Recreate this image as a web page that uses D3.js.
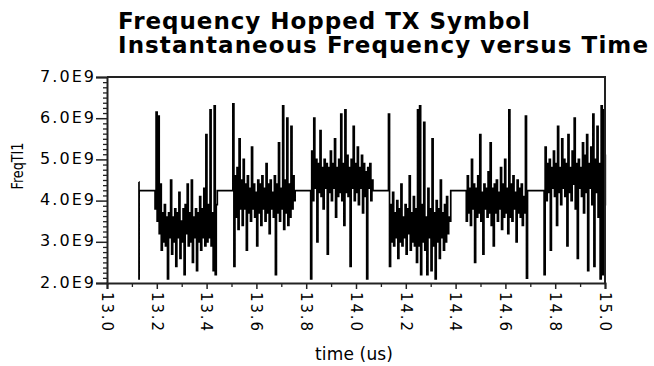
<!DOCTYPE html>
<html>
<head>
<meta charset="utf-8">
<script src="https://cdn.jsdelivr.net/npm/d3@7"></script>
<style>
  html, body { margin: 0; padding: 0; background: #fff; }
  svg { display: block; }
</style>
</head>
<body>
<svg id="chart" width="654" height="366"></svg>
<script>
// ---------------- data ----------------
const titleLines = ["Frequency Hopped TX Symbol", "Instantaneous Frequency versus Time"];
const xLabel = "time (us)";
const yLabel = "FreqTI1";

const xTickValues = [13.0, 13.2, 13.4, 13.6, 13.8, 14.0, 14.2, 14.4, 14.6, 14.8, 15.0];
const xTickLabels = ["13.0", "13.2", "13.4", "13.6", "13.8", "14.0", "14.2", "14.4", "14.6", "14.8", "15.0"];
const xMinorTicks = [13.1, 13.3, 13.5, 13.7, 13.9, 14.1, 14.3, 14.5, 14.7, 14.9];
const yTickValues = [2, 3, 4, 5, 6, 7];           // in units of 1E9
const yTickLabels = ["2.0E9", "3.0E9", "4.0E9", "5.0E9", "6.0E9", "7.0E9"];

// lead-in burst before the first hop (time us, freq GHz)
const leadTimes  = [13.128, 13.1285, 13.129];
const leadValues = [4.45, 2.1, 4.24];

// hop start times (us), hop duration and the guard level between hops
const hopStarts = [13.193, 13.5055, 13.818, 14.1305, 14.443, 14.7555];
const hopDuration = 0.25;
const guardLevel = 4.24;

// instantaneous frequency samples (GHz) in each hop
const hopA = [3.8, 6.15, 3.5, 6.05, 3.2, 4.4, 2.8, 3.7, 3.0, 3.9, 2.9, 3.6, 2.1, 3.7, 3.1, 4.5, 2.7, 3.6, 3.0, 3.8,
              2.4, 3.7, 3.1, 4.2, 2.6, 3.5, 3.0, 3.8, 2.2, 3.9, 3.2, 4.4, 2.9, 3.7, 3.0, 4.5, 2.5, 3.6, 3.1, 3.8,
              2.3, 3.7, 3.0, 4.1, 2.8, 3.8, 3.1, 4.3, 2.9, 5.6, 3.0, 3.9, 3.1, 6.2, 2.9, 3.7, 2.3, 6.3, 2.2, 3.9];
const hopB = [6.35, 2.4, 4.6, 3.6, 4.8, 3.3, 5.5, 3.8, 4.5, 3.4, 5.0, 3.8, 4.4, 2.8, 4.6, 3.7, 4.3, 3.5, 5.3, 3.8,
              4.4, 3.6, 4.2, 2.9, 4.5, 3.7, 4.4, 3.4, 4.6, 3.8, 4.3, 3.5, 4.9, 3.7, 4.4, 3.2, 4.5, 3.8, 4.2, 3.6,
              4.6, 2.2, 4.4, 3.7, 5.4, 3.5, 4.3, 3.8, 6.3, 3.3, 4.5, 3.7, 6.0, 3.4, 4.4, 3.6, 5.8, 3.8, 4.6, 4.0];
const hopC = [2.1, 5.2, 4.0, 6.0, 4.3, 5.0, 3.0, 4.9, 4.2, 5.7, 4.1, 4.8, 3.8, 5.0, 4.3, 4.9, 2.7, 4.8, 4.2, 5.2,
              4.0, 4.9, 4.3, 5.5, 3.6, 4.8, 4.1, 5.0, 4.2, 6.1, 4.0, 4.9, 3.4, 6.2, 4.2, 5.1, 4.1, 4.8, 2.4, 5.0,
              4.3, 5.8, 4.0, 4.9, 4.2, 5.3, 3.9, 4.8, 4.3, 5.1, 3.7, 4.9, 4.1, 4.7, 2.1, 4.8, 4.3, 4.9, 4.0, 4.5];
const hopD = [6.1, 2.4, 3.9, 3.0, 4.2, 2.9, 3.7, 3.1, 4.0, 2.6, 3.8, 3.0, 4.4, 2.9, 3.6, 3.1, 3.9, 2.7, 3.8, 3.2,
              4.6, 2.8, 3.7, 3.0, 4.1, 2.9, 3.8, 2.5, 6.2, 2.9, 6.3, 2.2, 3.9, 3.0, 5.9, 2.8, 3.6, 2.2, 4.3, 3.1,
              3.8, 2.3, 5.5, 2.9, 3.7, 2.1, 4.0, 3.0, 3.8, 2.6, 4.5, 3.1, 3.7, 2.8, 3.9, 3.0, 4.1, 3.2, 3.6, 3.5];
const hopE = [3.5, 4.6, 3.7, 4.3, 3.4, 5.0, 3.8, 4.4, 2.5, 4.3, 3.6, 4.6, 3.7, 5.6, 3.5, 4.2, 2.7, 4.4, 3.8, 4.3,
              3.6, 4.7, 3.7, 5.4, 3.4, 4.3, 2.9, 4.4, 3.7, 4.5, 3.5, 4.2, 3.8, 4.8, 3.3, 4.4, 3.6, 5.0, 3.7, 4.3,
              3.2, 6.2, 3.6, 4.4, 3.5, 4.6, 3.8, 4.2, 3.0, 4.5, 3.7, 4.3, 3.6, 4.4, 3.4, 4.1, 3.7, 6.05, 2.12, 4.24];
const hopF = [2.2, 5.3, 4.0, 4.9, 4.2, 5.0, 2.8, 4.8, 4.3, 5.2, 4.1, 4.9, 3.4, 5.8, 4.2, 4.8, 3.9, 5.5, 4.3, 5.0,
              4.1, 4.9, 2.9, 5.6, 4.2, 4.8, 4.0, 5.2, 4.4, 6.0, 3.8, 4.9, 2.6, 5.0, 4.3, 4.8, 4.1, 5.4, 3.7, 5.1,
              4.2, 5.6, 2.3, 4.9, 4.3, 5.3, 3.9, 6.1, 2.4, 5.0, 4.2, 5.8, 3.6, 4.9, 2.1, 6.3, 2.2, 6.2, 3.9, 5.1];
const hops = [hopA, hopB, hopC, hopD, hopE, hopF];

// ---------------- layout ----------------
const svg = d3.select("#chart");
svg.append("rect").attr("width", 654).attr("height", 366).attr("fill", "#fff");

const x = d3.scaleLinear().domain([13.0, 15.0]).range([107, 605]);
const y = d3.scaleLinear().domain([2, 7]).range([283, 77]);

// build the sampled trace
const pts = leadTimes.map((t, i) => [t, leadValues[i]]);
hops.forEach((vals, k) => {
  const t0 = hopStarts[k];
  const dt = hopDuration / vals.length;
  vals.forEach((v, i) => pts.push([t0 + i * dt, v]));
  const tEnd = Math.min(t0 + hopDuration, 15.0);
  if (k < hops.length - 1) pts.push([tEnd, guardLevel]);
  else pts.push([15.0, vals[vals.length - 1]]);
});

const line = d3.line().x(d => x(d[0])).y(d => y(d[1])).curve(d3.curveStepAfter);

svg.append("path")
  .datum(pts)
  .attr("d", line)
  .attr("fill", "none")
  .attr("stroke", "#000")
  .attr("stroke-width", 1.7)
  .attr("stroke-linejoin", "miter");

// frame (top and right)
svg.append("path")
  .attr("d", `M${x(13)},${y(7)}H${x(15)}V${y(2)}`)
  .attr("fill", "none").attr("stroke", "#222").attr("stroke-width", 2);

// ---------------- axes ----------------
const tickFont = "DejaVu Sans, sans-serif";

// y axis
const yAxis = svg.append("g").attr("transform", `translate(${x(13)},0)`)
  .call(d3.axisLeft(y).tickValues(yTickValues).tickSize(11).tickPadding(2)
        .tickFormat((d, i) => yTickLabels[i]));
const yMinor = d3.range(2, 7.0001, 0.125).filter(v => Math.abs(v - Math.round(v)) > 1e-6);
svg.append("g").attr("transform", `translate(${x(13)},0)`)
  .call(d3.axisLeft(y).tickValues(yMinor).tickSize(4).tickFormat(""))
  .call(g => g.select(".domain").remove())
  .selectAll("line").attr("stroke", "#222").attr("stroke-width", 1.3);

yAxis.select(".domain").attr("stroke", "#222").attr("stroke-width", 2);
yAxis.selectAll(".tick line").attr("stroke", "#222").attr("stroke-width", 1.5);
yAxis.selectAll(".tick text")
  .attr("font-family", tickFont).attr("font-size", 16).attr("fill", "#000")
  .attr("dy", "0.25em")
  .attr("textLength", 54).attr("lengthAdjust", "spacing");

// x axis
const xAxis = svg.append("g").attr("transform", `translate(0,${y(2)})`)
  .call(d3.axisBottom(x).tickValues(xTickValues).tickSize(6).tickFormat(""));
svg.append("g").attr("transform", `translate(0,${y(2)})`)
  .call(d3.axisBottom(x).tickValues(xMinorTicks).tickSize(4).tickFormat(""))
  .call(g => g.select(".domain").remove())
  .selectAll("line").attr("stroke", "#222").attr("stroke-width", 1.3);
xAxis.select(".domain").attr("stroke", "#222").attr("stroke-width", 2);
xAxis.selectAll(".tick line").attr("stroke", "#222").attr("stroke-width", 1.5);

svg.append("g").selectAll("text")
  .data(xTickValues)
  .join("text")
  .attr("transform", d => `translate(${x(d)},292) rotate(90)`)
  .attr("dy", "0.35em")
  .attr("text-anchor", "start")
  .attr("font-family", tickFont).attr("font-size", 15).attr("fill", "#000")
  .attr("textLength", 39).attr("lengthAdjust", "spacing")
  .text((d, i) => xTickLabels[i]);

// axis titles
svg.append("text")
  .attr("x", 354).attr("y", 360)
  .attr("text-anchor", "middle")
  .attr("font-family", tickFont).attr("font-size", 17).attr("fill", "#000")
  .attr("textLength", 78).attr("lengthAdjust", "spacing")
  .text(xLabel);

svg.append("text")
  .attr("transform", "translate(23,166) rotate(-90)")
  .attr("text-anchor", "middle")
  .attr("font-family", "DejaVu Sans, sans-serif").attr("font-size", 15).attr("fill", "#000")
  .attr("textLength", 47).attr("lengthAdjust", "spacingAndGlyphs")
  .text(yLabel);

// title
const titleWidths = [412, 530];
svg.append("g").selectAll("text")
  .data(titleLines)
  .join("text")
  .attr("x", 118)
  .attr("y", (d, i) => 29 + i * 23.5)
  .attr("font-family", "DejaVu Sans, sans-serif")
  .attr("font-weight", "bold")
  .attr("font-size", 23)
  .attr("fill", "#000")
  .attr("textLength", (d, i) => titleWidths[i]).attr("lengthAdjust", "spacing")
  .text(d => d);
</script>
</body>
</html>
